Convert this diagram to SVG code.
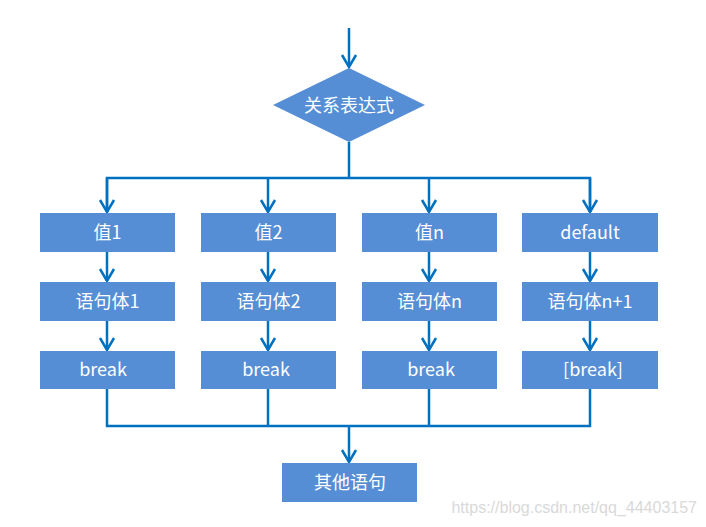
<svg xmlns="http://www.w3.org/2000/svg" width="706" height="527" viewBox="0 0 706 527">
<style>
.box{fill:#558ED5}
.t{fill:#fff;font-family:"Microsoft YaHei","Noto Sans CJK SC","Noto Sans",sans-serif;font-size:18px;text-anchor:middle;dominant-baseline:central}
.ln{fill:none;stroke:#0070C0;stroke-width:2.5}
.ar{fill:none;stroke:#0070C0;stroke-width:2.5;marker-end:url(#ah)}
</style>
<defs>
<marker id="ah" markerUnits="userSpaceOnUse" markerWidth="16" markerHeight="20" viewBox="-14 -10 16 20" refX="0" refY="0" orient="auto">
<path d="M-12,-7 L0,0 L-12,7" fill="none" stroke="#0070C0" stroke-width="2.5"/>
</marker>
</defs>
<rect width="706" height="527" fill="#fff"/>
<g id="connectors">
<line class="ar" x1="349" y1="28" x2="349" y2="67"/>
<polyline class="ln" points="349,142 349,178"/>
<polyline class="ln" points="107,212 107,178 590,178 590,212"/>
<line class="ar" x1="107" y1="178" x2="107" y2="212"/>
<line class="ar" x1="268" y1="178" x2="268" y2="212"/>
<line class="ar" x1="429" y1="178" x2="429" y2="212"/>
<line class="ar" x1="590" y1="178" x2="590" y2="212"/>
<line class="ar" x1="107" y1="252" x2="107" y2="281"/>
<line class="ar" x1="268" y1="252" x2="268" y2="281"/>
<line class="ar" x1="429" y1="252" x2="429" y2="281"/>
<line class="ar" x1="590" y1="252" x2="590" y2="281"/>
<line class="ar" x1="107" y1="321" x2="107" y2="350"/>
<line class="ar" x1="268" y1="321" x2="268" y2="350"/>
<line class="ar" x1="429" y1="321" x2="429" y2="350"/>
<line class="ar" x1="590" y1="321" x2="590" y2="350"/>
<polyline class="ln" points="107,389 107,426 590,426 590,389"/>
<line class="ln" x1="268" y1="389" x2="268" y2="426"/>
<line class="ln" x1="429" y1="389" x2="429" y2="426"/>
<line class="ar" x1="349" y1="426" x2="349" y2="462"/>
</g>
<g id="cond"><polygon class="box" points="349,68 425,105 349,142 273,105"/><text class="t" x="349" y="104">关系表达式</text></g>
<g id="v1"><rect class="box" x="40" y="213" width="135" height="39"/><text class="t" x="107.5" y="231">值1</text></g>
<g id="v2"><rect class="box" x="201" y="213" width="135" height="39"/><text class="t" x="268.5" y="231">值2</text></g>
<g id="vn"><rect class="box" x="362" y="213" width="135" height="39"/><text class="t" x="429.5" y="231">值n</text></g>
<g id="vd"><rect class="box" x="522" y="213" width="136" height="39"/><text class="t" x="590" y="231">default</text></g>
<g id="s1"><rect class="box" x="40" y="282" width="135" height="39"/><text class="t" x="107.5" y="300">语句体1</text></g>
<g id="s2"><rect class="box" x="201" y="282" width="135" height="39"/><text class="t" x="268.5" y="300">语句体2</text></g>
<g id="sn"><rect class="box" x="362" y="282" width="135" height="39"/><text class="t" x="429.5" y="300">语句体n</text></g>
<g id="sd"><rect class="box" x="522" y="282" width="136" height="39"/><text class="t" x="590" y="300">语句体n+1</text></g>
<g id="b1"><rect class="box" x="40" y="351" width="135" height="38"/><text class="t" x="103" y="368">break</text></g>
<g id="b2"><rect class="box" x="201" y="351" width="135" height="38"/><text class="t" x="266" y="368">break</text></g>
<g id="bn"><rect class="box" x="362" y="351" width="135" height="38"/><text class="t" x="431" y="368">break</text></g>
<g id="bd"><rect class="box" x="522" y="351" width="136" height="38"/><text class="t" x="593" y="368">[break]</text></g>
<g id="other"><rect class="box" x="282" y="463" width="135" height="39"/><text class="t" x="350" y="481">其他语句</text></g>
<text x="697" y="513" fill="#d9d9d9" font-family="Liberation Sans, Arial, sans-serif" font-size="16" text-anchor="end">https://blog.csdn.net/qq_44403157</text>
</svg>
